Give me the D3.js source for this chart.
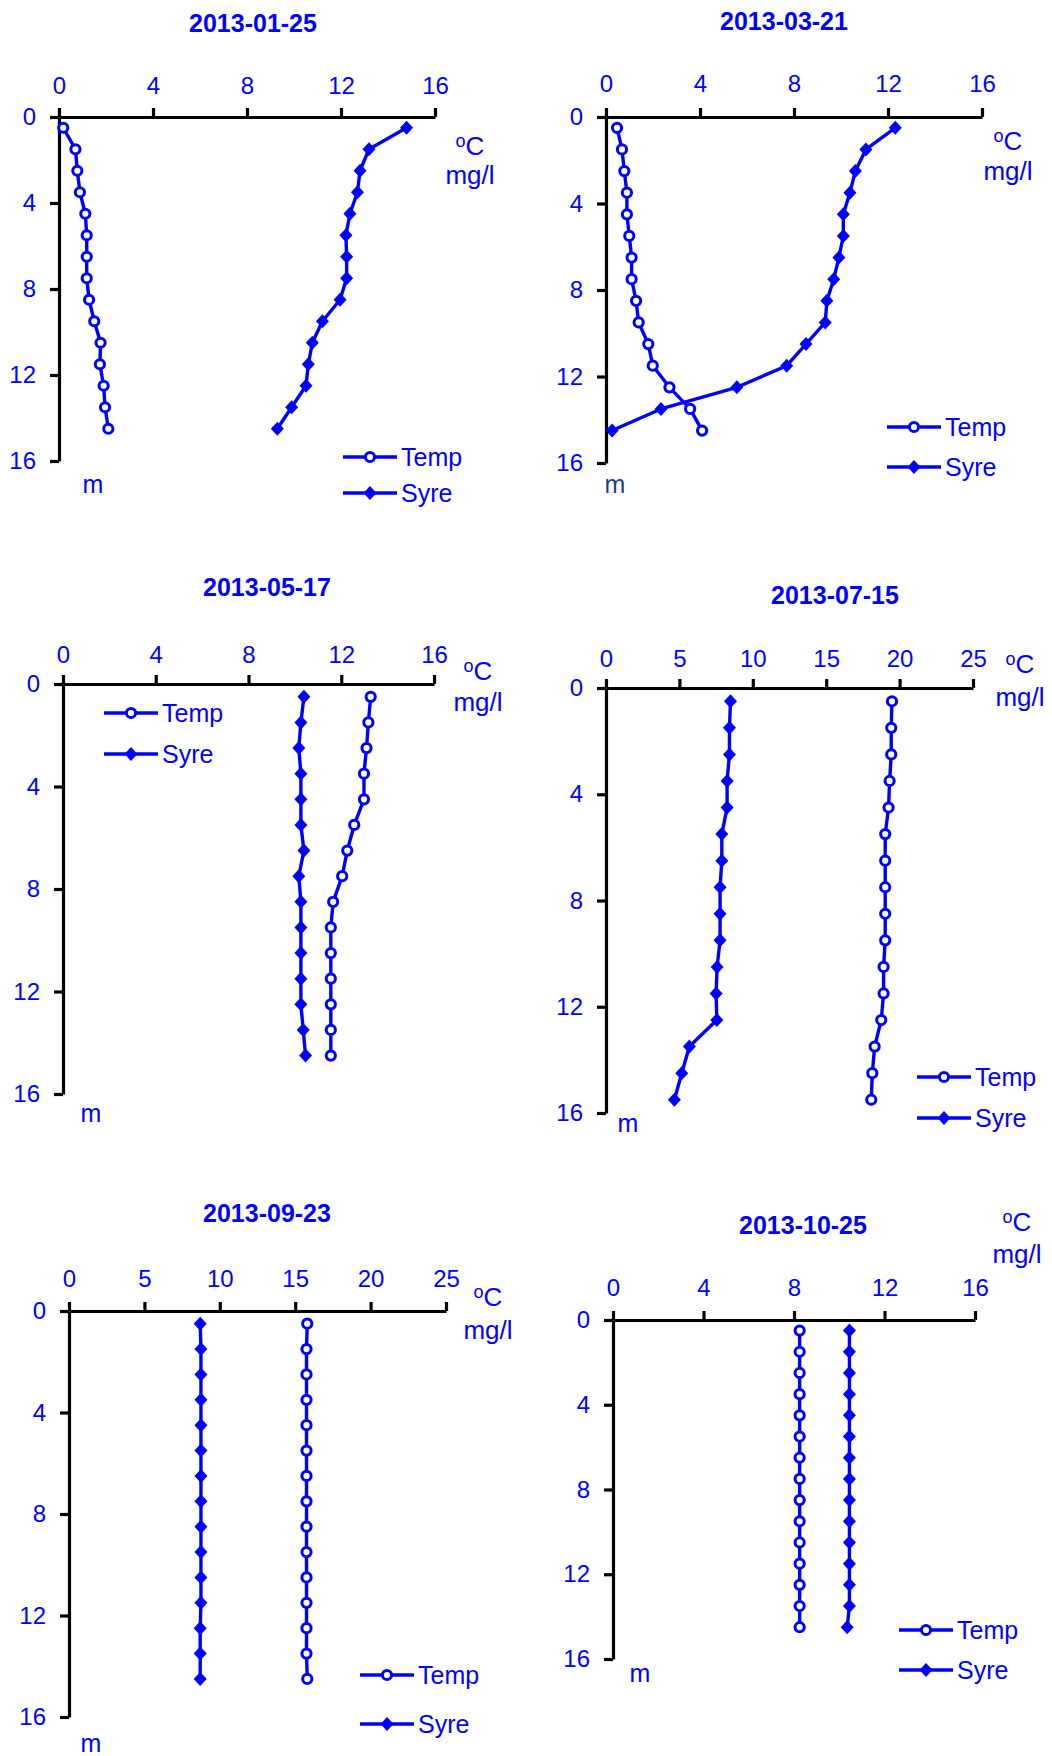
<!DOCTYPE html>
<html lang="en">
<head>
<meta charset="utf-8">
<title>Temp og syre 2013</title>
<script src="https://d3js.org/d3.v7.min.js"></script>
<style>
  body { margin: 0; background: #fff; }
  text { font-family: Arial, "Liberation Sans", sans-serif; }
</style>
</head>
<body>
<script>
// depths (m)
var depth15 = [0.5, 1.5, 2.5, 3.5, 4.5, 5.5, 6.5, 7.5, 8.5, 9.5, 10.5, 11.5, 12.5, 13.5, 14.5];
var depth16 = [0.5, 1.5, 2.5, 3.5, 4.5, 5.5, 6.5, 7.5, 8.5, 9.5, 10.5, 11.5, 12.5, 13.5, 14.5, 15.5];

// temp (oC) and syre (mg/l) per date
var tempJan = [0.18, 0.70, 0.78, 0.89, 1.12, 1.18, 1.18, 1.18, 1.28, 1.50, 1.77, 1.74, 1.90, 1.96, 2.10];
var syreJan = [14.79, 13.19, 12.81, 12.70, 12.38, 12.21, 12.24, 12.24, 11.96, 11.21, 10.78, 10.61, 10.51, 9.90, 9.29];

var tempMar = [0.47, 0.68, 0.78, 0.89, 0.89, 0.99, 1.09, 1.09, 1.28, 1.39, 1.80, 1.99, 2.70, 3.58, 4.09];
var syreMar = [12.31, 11.06, 10.61, 10.38, 10.10, 10.10, 9.91, 9.69, 9.40, 9.33, 8.51, 7.69, 5.57, 2.34, 0.26];

var tempMay = [13.27, 13.17, 13.09, 12.98, 12.98, 12.56, 12.26, 12.04, 11.65, 11.55, 11.55, 11.55, 11.55, 11.55, 11.55];
var syreMay = [10.39, 10.26, 10.17, 10.26, 10.26, 10.26, 10.39, 10.17, 10.26, 10.26, 10.26, 10.26, 10.26, 10.36, 10.46];

var tempJul = [19.48, 19.43, 19.43, 19.32, 19.25, 19.02, 19.02, 19.02, 19.02, 19.02, 18.91, 18.91, 18.75, 18.30, 18.14, 18.07];
var syreJul = [8.48, 8.41, 8.41, 8.25, 8.25, 7.89, 7.89, 7.77, 7.77, 7.77, 7.57, 7.50, 7.55, 5.68, 5.16, 4.66];

var tempSep = [15.8, 15.75, 15.75, 15.75, 15.75, 15.75, 15.75, 15.75, 15.75, 15.75, 15.75, 15.75, 15.75, 15.75, 15.8];
var syreSep = [8.7, 8.75, 8.75, 8.75, 8.75, 8.75, 8.75, 8.75, 8.75, 8.75, 8.75, 8.75, 8.7, 8.7, 8.7];

var tempOct = [8.25, 8.25, 8.25, 8.25, 8.25, 8.25, 8.25, 8.25, 8.25, 8.25, 8.25, 8.25, 8.25, 8.25, 8.25];
var syreOct = [10.45, 10.45, 10.45, 10.45, 10.45, 10.45, 10.45, 10.45, 10.45, 10.45, 10.45, 10.45, 10.45, 10.45, 10.35];

var dates = ["2013-01-25", "2013-03-21", "2013-05-17", "2013-07-15", "2013-09-23", "2013-10-25"];
var seriesNames = ["Temp", "Syre"];
var ticks16 = [0, 4, 8, 12, 16];
var ticks25 = [0, 5, 10, 15, 20, 25];
var depthTicks = [0, 4, 8, 12, 16];

// layout of the six panels (pixel positions only)
var panels = [
  {date: dates[0], temp: tempJan, syre: syreJan, depth: depth15, xMax: 16, xTicks: ticks16,
   x0: 59, x1: 435, y0: 117, y1: 461, tx: 253, ty: 32, gap: 23, ux: 470, uy: 155, ugap: 29,
   mx: 93, my: 493, mColor: "#0000ff", lx: 343, lt: 457, ls: 493},
  {date: dates[1], temp: tempMar, syre: syreMar, depth: depth15, xMax: 16, xTicks: ticks16,
   x0: 606, x1: 982, y0: 117, y1: 463, tx: 784, ty: 30, gap: 25, ux: 1008, uy: 150, ugap: 30,
   mx: 615, my: 493, mColor: "#1f3f80", lx: 887, lt: 427, ls: 467},
  {date: dates[2], temp: tempMay, syre: syreMay, depth: depth15, xMax: 16, xTicks: ticks16,
   x0: 63, x1: 434, y0: 684, y1: 1094, tx: 267, ty: 596, gap: 21, ux: 478, uy: 680, ugap: 31,
   mx: 91, my: 1122, mColor: "#0000ff", lx: 104, lt: 713, ls: 754},
  {date: dates[3], temp: tempJul, syre: syreJul, depth: depth16, xMax: 25, xTicks: ticks25,
   x0: 606, x1: 973, y0: 688, y1: 1113, tx: 835, ty: 604, gap: 21, ux: 1020, uy: 673, ugap: 33,
   mx: 628, my: 1132, mColor: "#0000ff", lx: 917, lt: 1077, ls: 1118},
  {date: dates[4], temp: tempSep, syre: syreSep, depth: depth15, xMax: 25, xTicks: ticks25,
   x0: 69, x1: 446, y0: 1311, y1: 1717, tx: 267, ty: 1222, gap: 24, ux: 488, uy: 1306, ugap: 33,
   mx: 91, my: 1752, mColor: "#0000ff", lx: 360, lt: 1675, ls: 1724},
  {date: dates[5], temp: tempOct, syre: syreOct, depth: depth15, xMax: 16, xTicks: ticks16,
   x0: 613, x1: 975, y0: 1320, y1: 1659, tx: 803, ty: 1234, gap: 24, ux: 1017, uy: 1231, ugap: 32,
   mx: 640, my: 1682, mColor: "#0000ff", lx: 899, lt: 1630, ls: 1670}
];

var blue = "#0000ff";
var svg = d3.select("body").append("svg")
  .attr("width", 1052)
  .attr("height", 1756);

svg.append("rect").attr("width", 1052).attr("height", 1756).attr("fill", "#fff");

var diamond = "M0,-7L6.5,0L0,7L-6.5,0Z";

function drawTemp(g, x, y) {
  g.append("circle").attr("cx", x).attr("cy", y).attr("r", 4.6)
    .attr("fill", "#fff").attr("stroke", blue).attr("stroke-width", 3);
}
function drawSyre(g, x, y) {
  g.append("path").attr("d", diamond).attr("transform", "translate(" + x + "," + y + ")")
    .attr("fill", blue);
}

panels.forEach(function(p) {
  var g = svg.append("g");
  var x = d3.scaleLinear().domain([0, p.xMax]).range([p.x0, p.x1]);
  var y = d3.scaleLinear().domain([0, 16]).range([p.y0, p.y1]);

  // title
  g.append("text").attr("x", p.tx).attr("y", p.ty)
    .attr("text-anchor", "middle").attr("font-size", 25).attr("font-weight", "bold")
    .attr("fill", blue).text(p.date);

  // axes
  var xAxis = g.append("g").attr("transform", "translate(0," + p.y0 + ")")
    .call(d3.axisTop(x).tickValues(p.xTicks).tickSize(9).tickSizeOuter(0).tickPadding(p.gap - 9));
  var yAxis = g.append("g").attr("transform", "translate(" + p.x0 + ",0)")
    .call(d3.axisLeft(y).tickValues(depthTicks).tickSize(9).tickSizeOuter(0).tickPadding(14));
  [xAxis, yAxis].forEach(function(a) {
    a.select(".domain").attr("stroke", "#000").attr("stroke-width", 3.2);
    a.selectAll(".tick line").attr("stroke", "#000").attr("stroke-width", 3.2);
    a.selectAll(".tick text").attr("fill", blue).attr("font-size", 24)
      .attr("font-family", "Arial, 'Liberation Sans', sans-serif");
  });

  // units
  var u = g.append("text").attr("x", p.ux).attr("y", p.uy)
    .attr("text-anchor", "middle").attr("font-size", 26).attr("fill", blue);
  u.append("tspan").attr("font-size", 18).attr("dy", -8).text("o");
  u.append("tspan").attr("dy", 8).text("C");
  g.append("text").attr("x", p.ux).attr("y", p.uy + p.ugap)
    .attr("text-anchor", "middle").attr("font-size", 26).attr("fill", blue).text("mg/l");
  g.append("text").attr("x", p.mx).attr("y", p.my)
    .attr("text-anchor", "middle").attr("font-size", 25).attr("fill", p.mColor).text("m");

  // lines
  var line = d3.line()
    .x(function(d) { return x(d[0]); })
    .y(function(d) { return y(d[1]); });
  var tempPts = p.temp.map(function(v, i) { return [v, p.depth[i]]; });
  var syrePts = p.syre.map(function(v, i) { return [v, p.depth[i]]; });

  g.append("path").attr("d", line(syrePts)).attr("fill", "none")
    .attr("stroke", blue).attr("stroke-width", 3.4).attr("stroke-linejoin", "round");
  g.append("path").attr("d", line(tempPts)).attr("fill", "none")
    .attr("stroke", blue).attr("stroke-width", 3.4).attr("stroke-linejoin", "round");

  syrePts.forEach(function(d) { drawSyre(g, x(d[0]), y(d[1])); });
  tempPts.forEach(function(d) { drawTemp(g, x(d[0]), y(d[1])); });

  // legend
  [p.lt, p.ls].forEach(function(ly, i) {
    g.append("line").attr("x1", p.lx).attr("x2", p.lx + 54)
      .attr("y1", ly).attr("y2", ly).attr("stroke", blue).attr("stroke-width", 3.4);
    if (i == 0) drawTemp(g, p.lx + 27, ly);
    else drawSyre(g, p.lx + 27, ly);
    g.append("text").attr("x", p.lx + 58).attr("y", ly + 9)
      .attr("font-size", 25).attr("fill", blue).text(seriesNames[i]);
  });
});
</script>
</body>
</html>
